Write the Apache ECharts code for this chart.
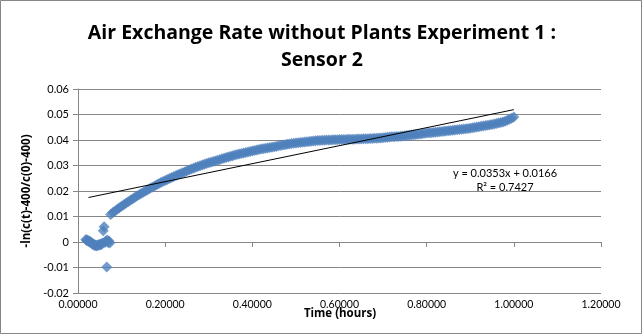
<!DOCTYPE html>
<html><head><meta charset="utf-8">
<script src="https://cdn.jsdelivr.net/npm/echarts@6/dist/echarts.min.js"></script>
<style>html,body{margin:0;padding:0;background:#fff}#c{width:644px;height:335px}</style>
</head><body><div id="c"></div>
<script>
const chartTitle = 'Air Exchange Rate without Plants Experiment 1 :\nSensor 2';
const xName = 'Time (hours)';
const yName = '-ln(c(t)-400/c(0)-400)';
const timeHours = [
  0.018,0.020,0.022,0.024,0.026,0.028,0.030,0.032,0.034,0.036,0.038,0.040,0.042,0.044,0.046,0.048,0.050,0.052,0.054,0.056,
  0.058,0.060,0.062,0.064,0.066,0.067,0.069,0.071,0.073,
  0.075,0.080,0.085,0.090,0.095,0.100,0.105,0.110,0.115,0.120,
  0.125,0.130,0.135,0.140,0.145,0.150,0.155,0.160,0.165,0.170,
  0.175,0.180,0.185,0.190,0.195,0.200,0.205,0.210,0.215,0.220,
  0.225,0.230,0.235,0.240,0.245,0.250,0.255,0.260,0.265,0.270,
  0.275,0.280,0.285,0.290,0.295,0.300,0.305,0.310,0.315,0.320,
  0.325,0.330,0.335,0.340,0.345,0.350,0.355,0.360,0.365,0.370,
  0.375,0.380,0.385,0.390,0.395,0.400,0.405,0.410,0.415,0.420,
  0.425,0.430,0.435,0.440,0.445,0.450,0.455,0.460,0.465,0.470,
  0.475,0.480,0.485,0.490,0.495,0.500,0.505,0.510,0.515,0.520,
  0.525,0.530,0.535,0.540,0.545,0.550,0.555,0.560,0.565,0.570,
  0.575,0.580,0.585,0.590,0.595,0.600,0.605,0.610,0.615,0.620,
  0.625,0.630,0.635,0.640,0.645,0.650,0.655,0.660,0.665,0.670,
  0.675,0.680,0.685,0.690,0.695,0.700,0.705,0.710,0.715,0.720,
  0.725,0.730,0.735,0.740,0.745,0.750,0.755,0.760,0.765,0.770,
  0.775,0.780,0.785,0.790,0.795,0.800,0.805,0.810,0.815,0.820,
  0.825,0.830,0.835,0.840,0.845,0.850,0.855,0.860,0.865,0.870,
  0.875,0.880,0.885,0.890,0.895,0.900,0.905,0.910,0.915,0.920,
  0.925,0.930,0.935,0.940,0.945,0.950,0.955,0.960,0.965,0.970,
  0.975,0.980,0.985,0.990,0.995,1.000
];
const lnRatio = [
  0.0010,0.0006,0.0008,0.0002,0.0004,-0.0002,0.0000,-0.0006,-0.0010,-0.0008,-0.0014,-0.0012,-0.0016,-0.0012,-0.0014,-0.0010,-0.0012,-0.0008,-0.0010,-0.0004,
  0.0044,0.0060,-0.0002,0.0004,-0.0098,0.0008,-0.0002,0.0004,-0.0004,
  0.0108,0.0116,0.0122,0.0128,0.0134,0.0140,0.0146,0.0152,0.0158,0.0164,
  0.0169,0.0175,0.0180,0.0185,0.0190,0.0195,0.0200,0.0205,0.0210,0.0215,
  0.0219,0.0224,0.0228,0.0233,0.0237,0.0241,0.0245,0.0249,0.0253,0.0257,
  0.0261,0.0265,0.0268,0.0272,0.0275,0.0279,0.0282,0.0286,0.0289,0.0293,
  0.0296,0.0299,0.0302,0.0305,0.0308,0.0311,0.0313,0.0316,0.0318,0.0321,
  0.0323,0.0326,0.0328,0.0331,0.0333,0.0336,0.0338,0.0341,0.0343,0.0345,
  0.0347,0.0349,0.0351,0.0353,0.0355,0.0357,0.0359,0.0361,0.0363,0.0365,
  0.0366,0.0368,0.0369,0.0371,0.0372,0.0374,0.0375,0.0377,0.0378,0.0380,
  0.0381,0.0383,0.0384,0.0386,0.0387,0.0388,0.0389,0.0390,0.0391,0.0392,
  0.0393,0.0394,0.0395,0.0396,0.0397,0.0398,0.0398,0.0399,0.0399,0.0400,
  0.0400,0.0400,0.0401,0.0401,0.0401,0.0402,0.0402,0.0402,0.0402,0.0403,
  0.0403,0.0403,0.0403,0.0404,0.0404,0.0404,0.0405,0.0405,0.0405,0.0406,
  0.0406,0.0407,0.0407,0.0408,0.0408,0.0409,0.0410,0.0411,0.0412,0.0413,
  0.0413,0.0414,0.0414,0.0415,0.0416,0.0417,0.0418,0.0419,0.0420,0.0421,
  0.0422,0.0423,0.0424,0.0425,0.0426,0.0427,0.0428,0.0428,0.0429,0.0430,
  0.0431,0.0432,0.0433,0.0434,0.0435,0.0436,0.0437,0.0438,0.0439,0.0440,
  0.0441,0.0442,0.0443,0.0444,0.0445,0.0446,0.0448,0.0449,0.0451,0.0452,
  0.0454,0.0455,0.0457,0.0458,0.0460,0.0461,0.0463,0.0465,0.0467,0.0469,
  0.0471,0.0474,0.0477,0.0481,0.0485,0.0490
];
const trendSlope = 0.0353;
const trendIntercept = 0.0166;
const trendText = 'y = 0.0353x + 0.0166\nR² = 0.7427';
const xAxisRange = {min: 0, max: 1.2, interval: 0.2};
const yAxisRange = {min: -0.02, max: 0.06, interval: 0.01};

const points = timeHours.map((t, i) => [t, lnRatio[i]]);
const tMin = Math.min(...timeHours) + 0.006, tMax = Math.max(...timeHours);
const trend = [[tMin, trendSlope * tMin + trendIntercept], [tMax, trendSlope * tMax + trendIntercept]];

const FONT = 'Lato, "Open Sans", sans-serif';
const BFONT = '"Open Sans", Lato, sans-serif';
const chart = echarts.init(document.getElementById('c'));
chart.setOption({
  animation: false,
  backgroundColor: '#fff',
  textStyle: {fontFamily: FONT},
  title: {
    text: chartTitle, left: 'center', top: 15,
    textStyle: {fontSize: 19.5, fontWeight: 'bold', color: '#000', lineHeight: 27, fontFamily: BFONT}
  },
  grid: {left: 78, right: 43, top: 89, bottom: 42},
  xAxis: {
    type: 'value', min: xAxisRange.min, max: xAxisRange.max, interval: xAxisRange.interval,
    axisLine: {show: true, onZero: true, lineStyle: {color: '#868686'}},
    axisTick: {show: true, inside: false, length: 5, lineStyle: {color: '#868686'}},
    splitLine: {show: false},
    axisLabel: {color: '#000', fontSize: 10.5, margin: 6, formatter: v => v.toFixed(5), showMinLabel: true, showMaxLabel: true}
  },
  yAxis: {
    type: 'value', min: yAxisRange.min, max: yAxisRange.max, interval: yAxisRange.interval,
    name: yName, nameLocation: 'middle', nameGap: 45, nameRotate: 90,
    nameTextStyle: {fontSize: 11.5, fontWeight: 'bold', color: '#000', fontFamily: BFONT},
    axisLine: {show: true, lineStyle: {color: '#868686'}},
    axisTick: {show: true, length: 5, lineStyle: {color: '#868686'}},
    splitLine: {show: true, lineStyle: {color: '#868686', width: 1}},
    axisLabel: {color: '#000', fontSize: 11, margin: 9, formatter: v => String(Math.round(v * 100) / 100)}
  },
  graphic: [
    {type: 'rect', shape: {x: 0.5, y: 0.5, width: 641, height: 333}, style: {fill: 'none', stroke: '#868686', lineWidth: 1}, silent: true},
    {type: 'text', x: 340, y: 308, style: {text: xName, font: 'bold 11.5px ' + BFONT, fill: '#000', textAlign: 'center'}},
    {type: 'text', x: 505, y: 166, style: {text: trendText, font: '11px ' + FONT, fill: '#000', textAlign: 'center', lineHeight: 14}}
  ],
  series: [
    {
      type: 'scatter', data: points, symbol: 'diamond', symbolSize: 11,
      itemStyle: {color: '#4F81BD'}, z: 2
    },
    {
      type: 'line', data: trend, symbol: 'none', lineStyle: {color: '#000', width: 1}, z: 3
    }
  ]
});
</script>
</body></html>
